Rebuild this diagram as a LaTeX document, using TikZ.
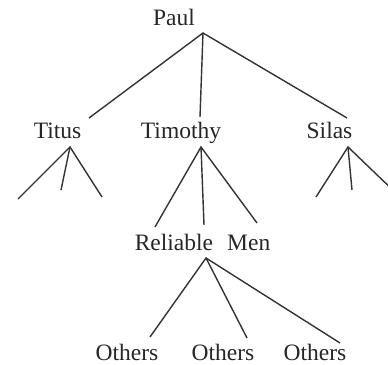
\documentclass[tikz,border=0pt]{standalone}
\usepackage{fontspec}
\setmainfont{Liberation Serif}
\tikzset{person/.style = {anchor=base, inner sep=0, font=\fontsize{23.5}{28}\selectfont, text=black!85}}
\tikzset{branch/.style = {line width=1.4pt, black!80}}

\begin{document}
\begin{tikzpicture}[x=1pt, y=-1pt]
      \useasboundingbox (0, 0) rectangle (388, 364);
      % names
      \node [person] (paul) at (174, 25) {Paul};
      \node [person] (titus) at (57.5, 138) {Titus};
      \node [person] (timothy) at (181, 138) {Timothy};
      \node [person] (silas) at (329.5, 138) {Silas};
      \node [person] (men) at (202.5, 250) {Reliable\hspace{0.6em}Men};
      \node [person] (other1) at (127, 360) {Others};
      \node [person] (other2) at (223, 360) {Others};
      \node [person] (other3) at (315, 360) {Others};
      % branch points
      \coordinate (paul top) at (203, 33);
      \coordinate (titus top) at (70, 147);
      \coordinate (timothy top) at (201, 147);
      \coordinate (silas top) at (348, 147);
      \coordinate (men top) at (206, 258);
      \coordinate (titus end) at (89, 118);
      \coordinate (timothy end) at (200, 117);
      \coordinate (silas end) at (347, 118);
      \coordinate (men end) at (204, 225);
      \coordinate (other1 end) at (150, 337);
      \coordinate (other2 end) at (247, 338);
      \coordinate (other3 end) at (340, 343);
      \draw [branch] (titus end) -- (paul top) -- (silas end);
      \draw [branch] (paul top) -- (timothy end);
      \draw [branch] (18, 199) -- (titus top) -- (102, 197);
      \draw [branch] (titus top) -- (61, 190);
      \draw [branch] (155, 227) -- (timothy top) -- (257, 223);
      \draw [branch] (timothy top) -- (men end);
      \draw [branch] (316, 197) -- (silas top) -- (398, 195);
      \draw [branch] (silas top) -- (352, 190);
      \draw [branch] (other1 end) -- (men top) -- (other3 end);
      \draw [branch] (men top) -- (other2 end);
\end{tikzpicture}
\end{document}
